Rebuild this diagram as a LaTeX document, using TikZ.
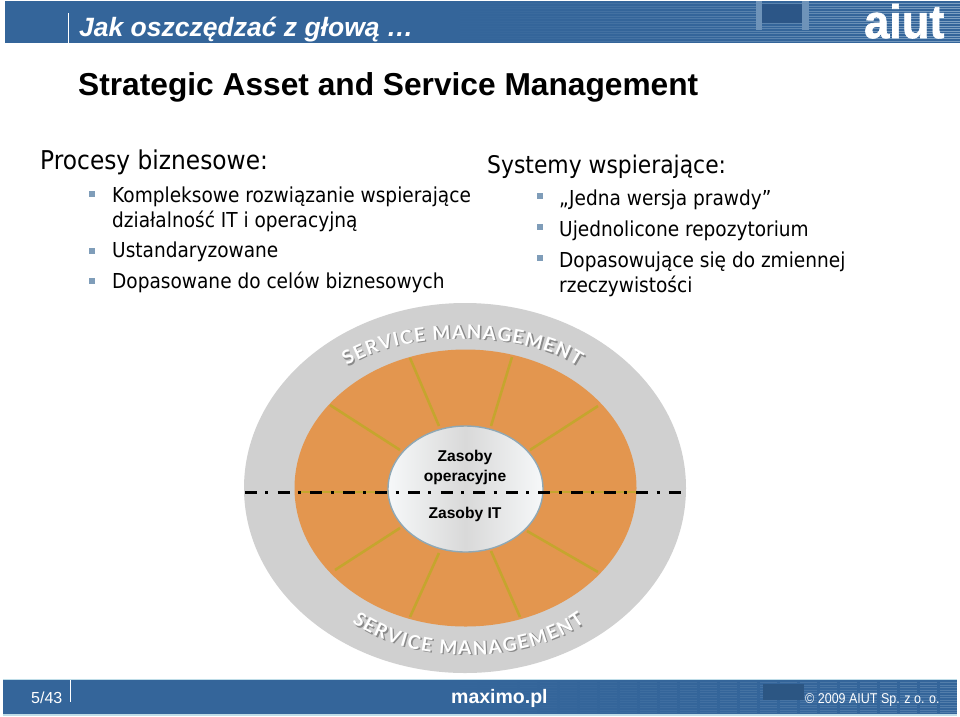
\documentclass[tikz,border=0pt]{standalone}
\usepackage{fontspec}
\setmainfont{Liberation Sans}
\newfontfamily\bodyf[FakeStretch=0.9]{DejaVu Sans}
\newfontfamily\ringf{Lato}
\newfontfamily\logof[FakeStretch=0.96,FakeBold=1.5]{Liberation Sans}
\newfontfamily\footf[FakeStretch=0.88]{Liberation Sans}
\usetikzlibrary{shapes.geometric,decorations.text,calc}
\newcommand\ringfmt{\ringf\bfseries\fontsize{19}{19}\selectfont}
\definecolor{barblue}{HTML}{34659A}
\definecolor{barlight}{HTML}{9DB9D3}
\definecolor{bardark}{HTML}{2C5687}
\definecolor{barline}{HTML}{BFDDE8}
\definecolor{ringgrey}{HTML}{D0D0D0}
\definecolor{ringor}{HTML}{E3964F}
\definecolor{spoke}{HTML}{C5A52E}
\definecolor{bull}{HTML}{7F9DB9}
\definecolor{hubedge}{HTML}{8FA8B5}
\definecolor{shade}{HTML}{8A8A8A}
\tikzset{
  bar/.style={fill=barblue,draw=none},
  body/.style={anchor=base west,inner sep=0,text=black,font=\bodyf\fontsize{20.6}{20.6}\selectfont},
  headl/.style={anchor=base west,inner sep=0,text=black,font=\bodyf\fontsize{25.9}{25.9}\selectfont},
  headr/.style={anchor=base west,inner sep=0,text=black,font=\bodyf\fontsize{24.3}{24.3}\selectfont},
  bulletbox/.style={fill=bull,draw=none,minimum size=6.5pt,inner sep=0},
  spokeln/.style={draw=spoke,line width=2.6pt},
  hubtxt/.style={anchor=base,inner sep=0,font=\bfseries\fontsize{15.6}{15.6}\selectfont},
  footw/.style={anchor=base west,inner sep=0,text=white},
}
\begin{document}
\begin{tikzpicture}[x=1pt,y=-1pt]
\useasboundingbox (0,0) rectangle (960,716);
\fill[white] (0,0) rectangle (960,716);
% header bar
\fill[bar] (5,1) rectangle (960,43);
\foreach \x in {420,440,...,940}{
  \pgfmathtruncatemacro\p{((\x-420)/540)^1.5*75}
  \foreach \y in {3,5.5,...,42}{
    \fill[barlight!\p!barblue] (\x,\y) rectangle (\x+20.3,\y+1);
  }
}
\fill[bardark] (762,4) rectangle (804,23);
\fill[barlight!55!barblue] (756,1) rectangle (762,30);
\fill[barlight!55!barblue] (802,1) rectangle (809,30);
\draw[white,line width=1pt] (68,13) -- (68,43);
\node[anchor=base west,inner sep=0,text=white,font=\bfseries\itshape\fontsize{26.5}{26.5}\selectfont] (htitle) at (79,36) {Jak oszczędzać z głową …};
\node[anchor=base west,inner sep=0,text=white,font=\logof\bfseries\fontsize{47}{47}\selectfont] (logo) at (864,38) {aiut};
% title
\node[anchor=base west,inner sep=0,font=\bfseries\fontsize{31.7}{31.7}\selectfont] (title) at (78,95) {Strategic Asset and Service Management};
% left column
\node[headl] (lh) at (40,169.5) {Procesy biznesowe:};
\node[bulletbox] (b1) at (92,194) {};
\node[body] (l1) at (112,202) {Kompleksowe rozwiązanie wspierające};
\node[body] (l1b) at (112,227.5) {działalność IT i operacyjną};
\node[bulletbox] (b2) at (92,251) {};
\node[body] (l2) at (112,257.5) {Ustandaryzowane};
\node[bulletbox] (b3) at (92,281) {};
\node[body] (l3) at (112,288) {Dopasowane do celów biznesowych};
% right column
\node[headr] (rh) at (487,173) {Systemy wspierające:};
\node[bulletbox] (c1) at (540,196) {};
\node[body] (r1) at (559,205.5) {„Jedna wersja prawdy”};
\node[bulletbox] (c2) at (540,227) {};
\node[body] (r2) at (559,236) {Ujednolicone repozytorium};
\node[bulletbox] (c3) at (540,258) {};
\node[body] (r3) at (559,267) {Dopasowujące się do zmiennej};
\node[body] (r3b) at (559,292) {rzeczywistości};
% rings
\node[ellipse,fill=ringgrey,draw=none,minimum width=442pt,minimum height=370pt,inner sep=0] (outer) at (465,488) {};
\node[ellipse,fill=ringor,draw=none,minimum width=342pt,minimum height=277pt,inner sep=0] (middle) at (465.5,488) {};
\draw[spokeln] (330,405) -- (400,450);
\draw[spokeln] (410,358) -- (439,426);
\draw[spokeln] (512,357) -- (491,426);
\draw[spokeln] (598,406) -- (530,450);
\draw[spokeln] (335,570) -- (400,528);
\draw[spokeln] (410,617) -- (439,553);
\draw[spokeln] (520,617) -- (491,551);
\draw[spokeln] (598,572) -- (527,531);
\draw[spokeln,line width=2pt] (298,491.5) -- (390,491.5);
\draw[spokeln,line width=2pt] (542,491.5) -- (636,491.5);
\node[ellipse,draw=hubedge,line width=1.4pt,left color=white!92!hubedge,right color=white!92!hubedge,middle color=white!85!black,minimum width=155pt,minimum height=126pt,inner sep=0] (hub) at (465.5,489) {};
\coordinate (dl) at (245,492.5);
\coordinate (dr) at (684,492.5);
\draw[black,line width=3.2pt,dash pattern=on 12pt off 8.3pt on 3pt off 9.3pt] (dl) -- (dr);
\node[hubtxt] (z1) at (465,461) {Zasoby};
\node[hubtxt] (z2) at (465,481) {operacyjne};
\node[hubtxt] (z3) at (465,518) {Zasoby IT};
% curved text (shadow then white)
\coordinate (ta) at (347,366);\coordinate (tb) at (578,366);
\coordinate (ba) at (352,622);\coordinate (bb) at (585,622);
\path[decorate,decoration={text along path,text align={fit to path},text={|\ringfmt\color{shade}|SERVICE MANAGEMENT}}] ($(ta)+(1.5,2)$) .. controls ($(ta)+(56,-36)$) and ($(tb)+(-56,-36)$) .. ($(tb)+(1.5,2)$);
\path[decorate,decoration={text along path,text align={fit to path},text={|\ringfmt\color{white}|SERVICE MANAGEMENT}}] (ta) .. controls ($(ta)+(56,-36)$) and ($(tb)+(-56,-36)$) .. (tb);
\path[decorate,decoration={text along path,text align={fit to path},text={|\ringfmt\color{shade}|SERVICE MANAGEMENT}}] ($(ba)+(1.5,2)$) .. controls ($(ba)+(60,44)$) and ($(bb)+(-60,44)$) .. ($(bb)+(1.5,2)$);
\path[decorate,decoration={text along path,text align={fit to path},text={|\ringfmt\color{white}|SERVICE MANAGEMENT}}] (ba) .. controls ($(ba)+(60,44)$) and ($(bb)+(-60,44)$) .. (bb);
% footer
\fill[barline] (3,679) rectangle (957,715.5);
\fill[bar] (3,680) rectangle (957,714);
\foreach \x in {400,420,...,940}{
  \pgfmathtruncatemacro\p{((\x-400)/557)^1.5*32}
  \foreach \y in {682,684.5,...,712}{
    \fill[barlight!\p!barblue] (\x,\y) rectangle (\x+17.3,\y+1);
  }
}
\fill[barblue!85!black] (763,684) rectangle (804,700);
\draw[white,line width=1pt] (70,680) -- (70,702);
\node[footw,font=\fontsize{16}{16}\selectfont] (pg) at (31,703) {5/43};
\node[footw,font=\bfseries\fontsize{19.5}{19.5}\selectfont] (mx) at (451,703) {maximo.pl};
\node[footw,font=\footf\fontsize{14.2}{14.2}\selectfont] (cp) at (805,703) {© 2009 AIUT Sp. z o. o.};
\end{tikzpicture}
\end{document}
